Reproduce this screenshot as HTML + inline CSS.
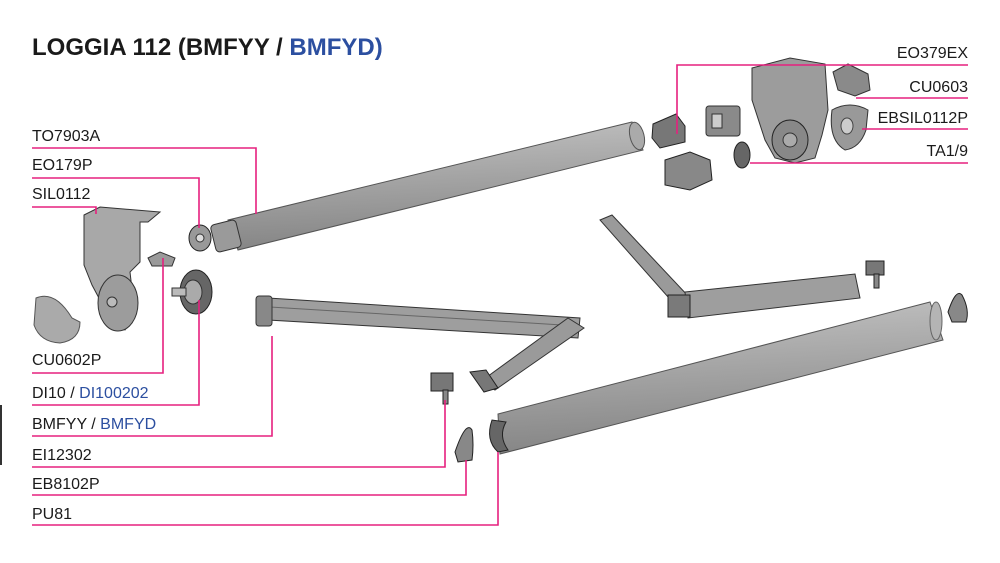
<!DOCTYPE html>
<html><head><meta charset="utf-8"><style>
html,body{margin:0;padding:0;background:#fff}
svg{display:block}
text{font-family:"Liberation Sans",Arial,sans-serif;fill:#1a1a1a}
</style></head><body>
<svg width="1000" height="563" viewBox="0 0 1000 563" xmlns="http://www.w3.org/2000/svg">
<defs>
<linearGradient id="tube" x1="0" y1="0" x2="0.15" y2="1">
<stop offset="0" stop-color="#c4c4c4"/><stop offset="0.5" stop-color="#a4a4a4"/><stop offset="1" stop-color="#858585"/>
</linearGradient>
</defs>
<text x="32" y="55" font-size="24" font-weight="bold">LOGGIA 112 (BMFYY / <tspan style="fill:#2c4fa0">BMFYD)</tspan></text>

<polygon points="228,220 632,122 643,150 238,250" fill="url(#tube)" stroke="#555" stroke-width="1"/>
<ellipse cx="637" cy="136" rx="7" ry="14" fill="#aaa" stroke="#555" transform="rotate(-14 637 136)"/>
<rect x="213" y="222" width="26" height="28" rx="4" fill="#9a9a9a" stroke="#333" transform="rotate(-14 226 236)"/>
<ellipse cx="200" cy="238" rx="11" ry="13" fill="#999" stroke="#222"/>
<circle cx="200" cy="238" r="4" fill="#ddd" stroke="#333"/>

<path d="M84,215 L100,207 L160,212 L148,222 L140,222 L140,262 L130,272 L135,315 L125,330 L108,320 L100,300 L92,285 L84,265 Z" fill="#a8a8a8" stroke="#333"/>
<ellipse cx="118" cy="303" rx="20" ry="28" fill="#9c9c9c" stroke="#333"/>
<circle cx="112" cy="302" r="5" fill="#bbb" stroke="#333"/>
<path d="M148,258 L160,252 L175,258 L172,266 L152,266 Z" fill="#9a9a9a" stroke="#333"/>
<path d="M36,298 Q55,290 72,318 L80,322 Q80,340 60,343 Q40,342 34,325 Z" fill="#aaa" stroke="#555"/>
<ellipse cx="196" cy="292" rx="16" ry="22" fill="#666" stroke="#222"/>
<ellipse cx="193" cy="292" rx="9" ry="12" fill="#aaa" stroke="#333"/>
<rect x="172" y="288" width="14" height="8" fill="#bbb" stroke="#333"/>

<path d="M752,68 L790,58 L825,64 L828,110 L822,135 L815,158 L795,163 L775,158 L765,140 L752,100 Z" fill="#9c9c9c" stroke="#333"/>
<ellipse cx="790" cy="140" rx="18" ry="20" fill="#888" stroke="#222"/>
<circle cx="790" cy="140" r="7" fill="#aaa" stroke="#333"/>
<path d="M833,72 L848,64 L868,74 L870,90 L855,96 L838,90 Z" fill="#8a8a8a" stroke="#333"/>
<path d="M832,110 Q850,100 868,110 L866,130 Q860,148 845,150 Q828,140 832,110 Z" fill="#999" stroke="#333"/>
<ellipse cx="847" cy="126" rx="6" ry="8" fill="#ccc" stroke="#444"/>
<rect x="706" y="106" width="34" height="30" rx="3" fill="#8a8a8a" stroke="#333"/>
<rect x="712" y="114" width="10" height="14" fill="#ccc" stroke="#333"/>
<ellipse cx="742" cy="155" rx="8" ry="13" fill="#666" stroke="#222"/>
<path d="M653,124 L676,114 L685,126 L685,142 L660,148 L652,138 Z" fill="#777" stroke="#222"/>
<path d="M665,160 L690,152 L710,160 L712,180 L690,190 L665,185 Z" fill="#888" stroke="#222"/>

<polygon points="268,298 580,318 578,338 268,320" fill="#9e9e9e" stroke="#333"/>
<line x1="270" y1="307" x2="578" y2="326" stroke="#666"/>
<rect x="256" y="296" width="16" height="30" rx="3" fill="#888" stroke="#333"/>
<polygon points="568,318 584,328 495,390 480,382" fill="#9a9a9a" stroke="#333"/>
<polygon points="470,372 486,370 498,388 484,392" fill="#777" stroke="#222"/>
<rect x="431" y="373" width="22" height="18" fill="#777" stroke="#222"/>
<rect x="443" y="390" width="5" height="14" fill="#888" stroke="#222"/>

<polygon points="600,220 612,215 690,298 676,306" fill="#9a9a9a" stroke="#333"/>
<polygon points="685,292 855,274 860,298 688,318" fill="#9e9e9e" stroke="#333"/>
<rect x="668" y="295" width="22" height="22" fill="#7a7a7a" stroke="#222"/>
<rect x="866" y="261" width="18" height="14" fill="#777" stroke="#222"/>
<rect x="874" y="274" width="5" height="14" fill="#888" stroke="#222"/>

<polygon points="498,414 930,302 943,340 500,454" fill="url(#tube)" stroke="#555"/>
<path d="M492,420 Q485,440 498,452 L508,450 Q498,436 506,422 Z" fill="#666" stroke="#222"/>
<ellipse cx="936" cy="321" rx="6" ry="19" fill="#b4b4b4" stroke="#666"/>
<path d="M455,452 Q466,420 472,430 Q474,445 472,460 L458,462 Z" fill="#888" stroke="#222"/>
<path d="M948,312 Q956,288 962,295 Q970,310 966,322 L952,322 Z" fill="#888" stroke="#222"/>

<g stroke="#e6207f" stroke-width="1.6" fill="none">
<polyline points="32,148 256,148 256,214"/>
<polyline points="32,178 199,178 199,228"/>
<polyline points="32,207 96,207 96,214"/>
<polyline points="32,373 163,373 163,258"/>
<polyline points="32,405 199,405 199,300"/>
<polyline points="32,436 272,436 272,336"/>
<polyline points="32,467 445,467 445,400"/>
<polyline points="32,495 466,495 466,460"/>
<polyline points="32,525 498,525 498,452"/>
<polyline points="968,65 677,65 677,134"/>
<polyline points="968,98 856,98"/>
<polyline points="968,129 862,129"/>
<polyline points="968,163 750,163"/>
</g>

<g font-size="16">
<text x="32" y="141">TO7903A</text>
<text x="32" y="170">EO179P</text>
<text x="32" y="199">SIL0112</text>
<text x="32" y="365">CU0602P</text>
<text x="32" y="398">DI10 / <tspan style="fill:#2c4fa0">DI100202</tspan></text>
<text x="32" y="429">BMFYY / <tspan style="fill:#2c4fa0">BMFYD</tspan></text>
<text x="32" y="460">EI12302</text>
<text x="32" y="489">EB8102P</text>
<text x="32" y="519">PU81</text>
<g text-anchor="end">
<text x="968" y="58">EO379EX</text>
<text x="968" y="92">CU0603</text>
<text x="968" y="123">EBSIL0112P</text>
<text x="968" y="156">TA1/9</text>
</g>
</g>
<rect x="0" y="405" width="2" height="60" fill="#333"/>
</svg>
</body></html>
